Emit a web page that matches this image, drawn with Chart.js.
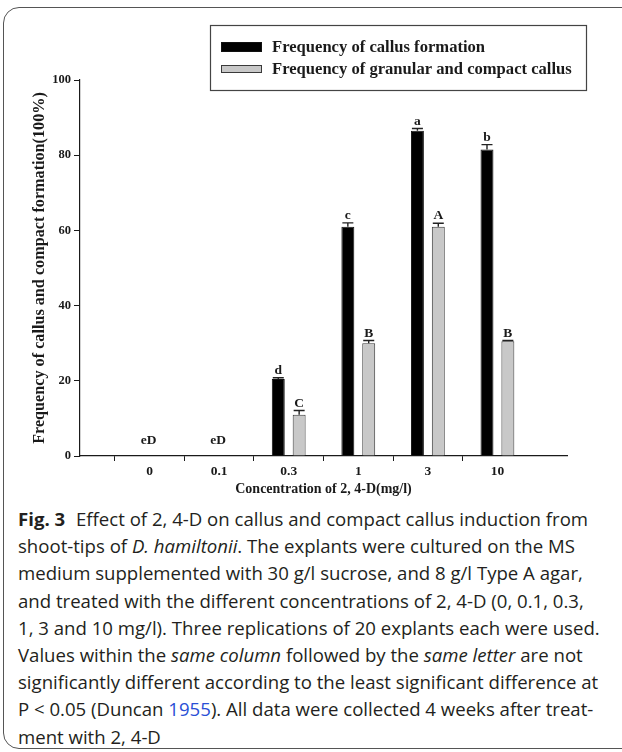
<!DOCTYPE html>
<html>
<head>
<meta charset="utf-8">
<script src="https://cdn.jsdelivr.net/npm/chart.js@4.4.1/dist/chart.umd.min.js"></script>
<style>
  html, body { margin: 0; padding: 0; background: #fff; }
  #page { position: relative; width: 622px; height: 752px; overflow: hidden; }
  #frame {
    position: absolute; left: 3px; top: 7px; width: 660px; height: 742px;
    border: 1.3px solid #555; border-radius: 16px; box-sizing: border-box;
  }
  #chartBox { position: absolute; left: 0; top: 0; width: 622px; height: 500px; }
  #caption {
    position: absolute; left: 18px; top: 505px; white-space: nowrap;
    font-family: "Open Sans", sans-serif; font-size: 18.6px; line-height: 27.2px;
    color: #231f20; letter-spacing: 0;
  }
  #caption b { font-weight: 700; margin-right: 6px; }
  #caption .ref { color: #2a4fd6; }
</style>
</head>
<body>
<div id="page">
  <div id="frame"></div>
  <div id="chartBox"><canvas id="chart" width="622" height="500"></canvas></div>
  <div id="caption">
    <b>Fig. 3</b> Effect of 2, 4-D on callus and compact callus induction from<br>
    shoot-tips of <i>D. hamiltonii</i>. The explants were cultured on the MS<br>
    medium supplemented with 30 g/l sucrose, and 8 g/l Type A agar,<br>
    and treated with the different concentrations of 2, 4-D (0, 0.1, 0.3,<br>
    1, 3 and 10 mg/l). Three replications of 20 explants each were used.<br>
    Values within the <i>same column</i> followed by the <i>same letter</i> are not<br>
    significantly different according to the least significant difference at<br>
    P &lt; 0.05 (Duncan <span class="ref">1955</span>). All data were collected 4 weeks after treat-<br>
    ment with 2, 4-D
  </div>
</div>
<script>
// 2,4-D concentration (mg/l)
const categories = ["0", "0.1", "0.3", "1", "3", "10"];
// Frequency of callus formation (%)
const callusFreq = [0, 0, 20.5, 61, 86.5, 81.5];
const callusErr = [0, 0, 0.3, 1.0, 0.6, 1.3];
const callusLetters = ["", "", "d", "c", "a", "b"];
// Frequency of granular and compact callus (%)
const compactFreq = [0, 0, 11, 30, 61, 30.5];
const compactErr = [0, 0, 1.1, 0.7, 0.9, 0.2];
const compactLetters = ["", "", "C", "B", "A", "B"];
// letters shown for categories with no callus at all
const zeroLetters = ["eD", "eD", "", "", "", ""];
const yTicks = [0, 20, 40, 60, 80, 100];

const SERIF = '"Liberation Serif", "Times New Roman", serif';
const INK = "#1a1a1a";

// blank slot at both ends so the categories sit one step in from the axis ends
const pad = (arr) => [null, ...arr, null];

const seriesDefs = [
  { label: "Frequency of callus formation", data: callusFreq, err: callusErr, letters: callusLetters,
    fill: "#000000", border: "#111111" },
  { label: "Frequency of granular and compact callus", data: compactFreq, err: compactErr, letters: compactLetters,
    fill: "#c8c8c8", border: "#3a3a3a" },
];

// error bars, significance letters and the boxed legend
const annotate = {
  id: "annotate",
  afterDatasetsDraw(chart) {
    const ctx = chart.ctx;
    const y = chart.scales.y;
    const x = chart.scales.x;
    ctx.save();
    chart.data.datasets.forEach((ds, di) => {
      const meta = chart.getDatasetMeta(di);
      const def = seriesDefs[di];
      meta.data.forEach((bar, i) => {
        const k = i - 1;
        if (k < 0 || k >= categories.length) return;
        const v = def.data[k];
        if (!v) return;
        const top = y.getPixelForValue(v + def.err[k]);
        ctx.strokeStyle = "#222";
        ctx.lineWidth = 1.4;
        ctx.beginPath();
        ctx.moveTo(bar.x, bar.y);
        ctx.lineTo(bar.x, top);
        ctx.moveTo(bar.x - 5.5, top);
        ctx.lineTo(bar.x + 5.5, top);
        ctx.stroke();
        ctx.fillStyle = INK;
        ctx.font = "bold 13.5px " + SERIF;
        ctx.textAlign = "center";
        ctx.textBaseline = "alphabetic";
        ctx.fillText(def.letters[k], bar.x, top - 4);
      });
    });
    zeroLetters.forEach((t, k) => {
      if (!t) return;
      ctx.fillStyle = INK;
      ctx.font = "bold 13.5px " + SERIF;
      ctx.textAlign = "center";
      ctx.fillText(t, x.getPixelForValue(k + 1) - 1, y.getPixelForValue(0) - 12);
    });

    // legend
    const lx = 210, ly = 25, lw = 376, lh = 65;
    ctx.strokeStyle = "#444";
    ctx.lineWidth = 1.2;
    ctx.strokeRect(lx + 0.5, ly + 0.5, lw, lh);
    const rows = [47, 69];
    seriesDefs.forEach((def, di) => {
      const cy = rows[di];
      const sh = di === 0 ? 10 : 8;
      ctx.fillStyle = def.fill;
      ctx.fillRect(221, cy - sh / 2, 41, sh);
      ctx.strokeStyle = def.border;
      ctx.lineWidth = 1;
      ctx.strokeRect(221.5, cy - sh / 2 + 0.5, 40, sh - 1);
      ctx.fillStyle = INK;
      ctx.font = "bold 16.6px " + SERIF;
      ctx.textAlign = "left";
      ctx.textBaseline = "middle";
      ctx.fillText(def.label, 272, cy + 1);
    });
    ctx.restore();
  },
};

new Chart(document.getElementById("chart").getContext("2d"), {
  type: "bar",
  data: {
    labels: pad(categories).map((c) => c || ""),
    datasets: seriesDefs.map((s) => ({
      label: s.label,
      data: pad(s.data),
      backgroundColor: s.fill,
      borderColor: s.border,
      borderWidth: 1,
      borderSkipped: "start",
      categoryPercentage: 0.6,
      barPercentage: 0.62,
    })),
  },
  options: {
    responsive: false,
    animation: false,
    devicePixelRatio: 1,
    layout: { padding: { left: 0, top: 80, right: 55, bottom: 0 } },
    plugins: { legend: { display: false }, tooltip: { enabled: false } },
    scales: {
      x: {
        offset: false,
        afterFit: (scale) => { scale.height = 44; },
        border: { color: INK, width: 1.2 },
        grid: {
          drawOnChartArea: false,
          tickLength: 5,
          tickColor: (c) => (c.tick && c.tick.label !== "" ? INK : "rgba(0,0,0,0)"),
        },
        ticks: { color: INK, padding: 2, font: { family: SERIF, size: 13.5, weight: "bold" }, maxRotation: 0, autoSkip: false },
        title: {
          display: true,
          text: "Concentration of 2, 4-D(mg/l)",
          color: INK,
          font: { family: SERIF, size: 14, weight: "bold" },
          padding: { top: 0, bottom: 2 },
        },
      },
      y: {
        min: 0,
        max: 100,
        afterFit: (scale) => { scale.width = 80; },
        afterBuildTicks: (scale) => { scale.ticks = yTicks.map((v) => ({ value: v })); },
        border: { color: INK, width: 1.2 },
        grid: { drawOnChartArea: false, tickLength: 6, tickColor: INK },
        ticks: { color: INK, padding: 3, font: { family: SERIF, size: 12.5, weight: "bold" } },
        title: {
          display: true,
          text: "Frequency of callus and compact formation(100%)",
          color: INK,
          font: { family: SERIF, size: 16.2, weight: "bold" },
          padding: { top: 30, bottom: 0 },
        },
      },
    },
  },
  plugins: [annotate],
});
</script>
</body>
</html>
